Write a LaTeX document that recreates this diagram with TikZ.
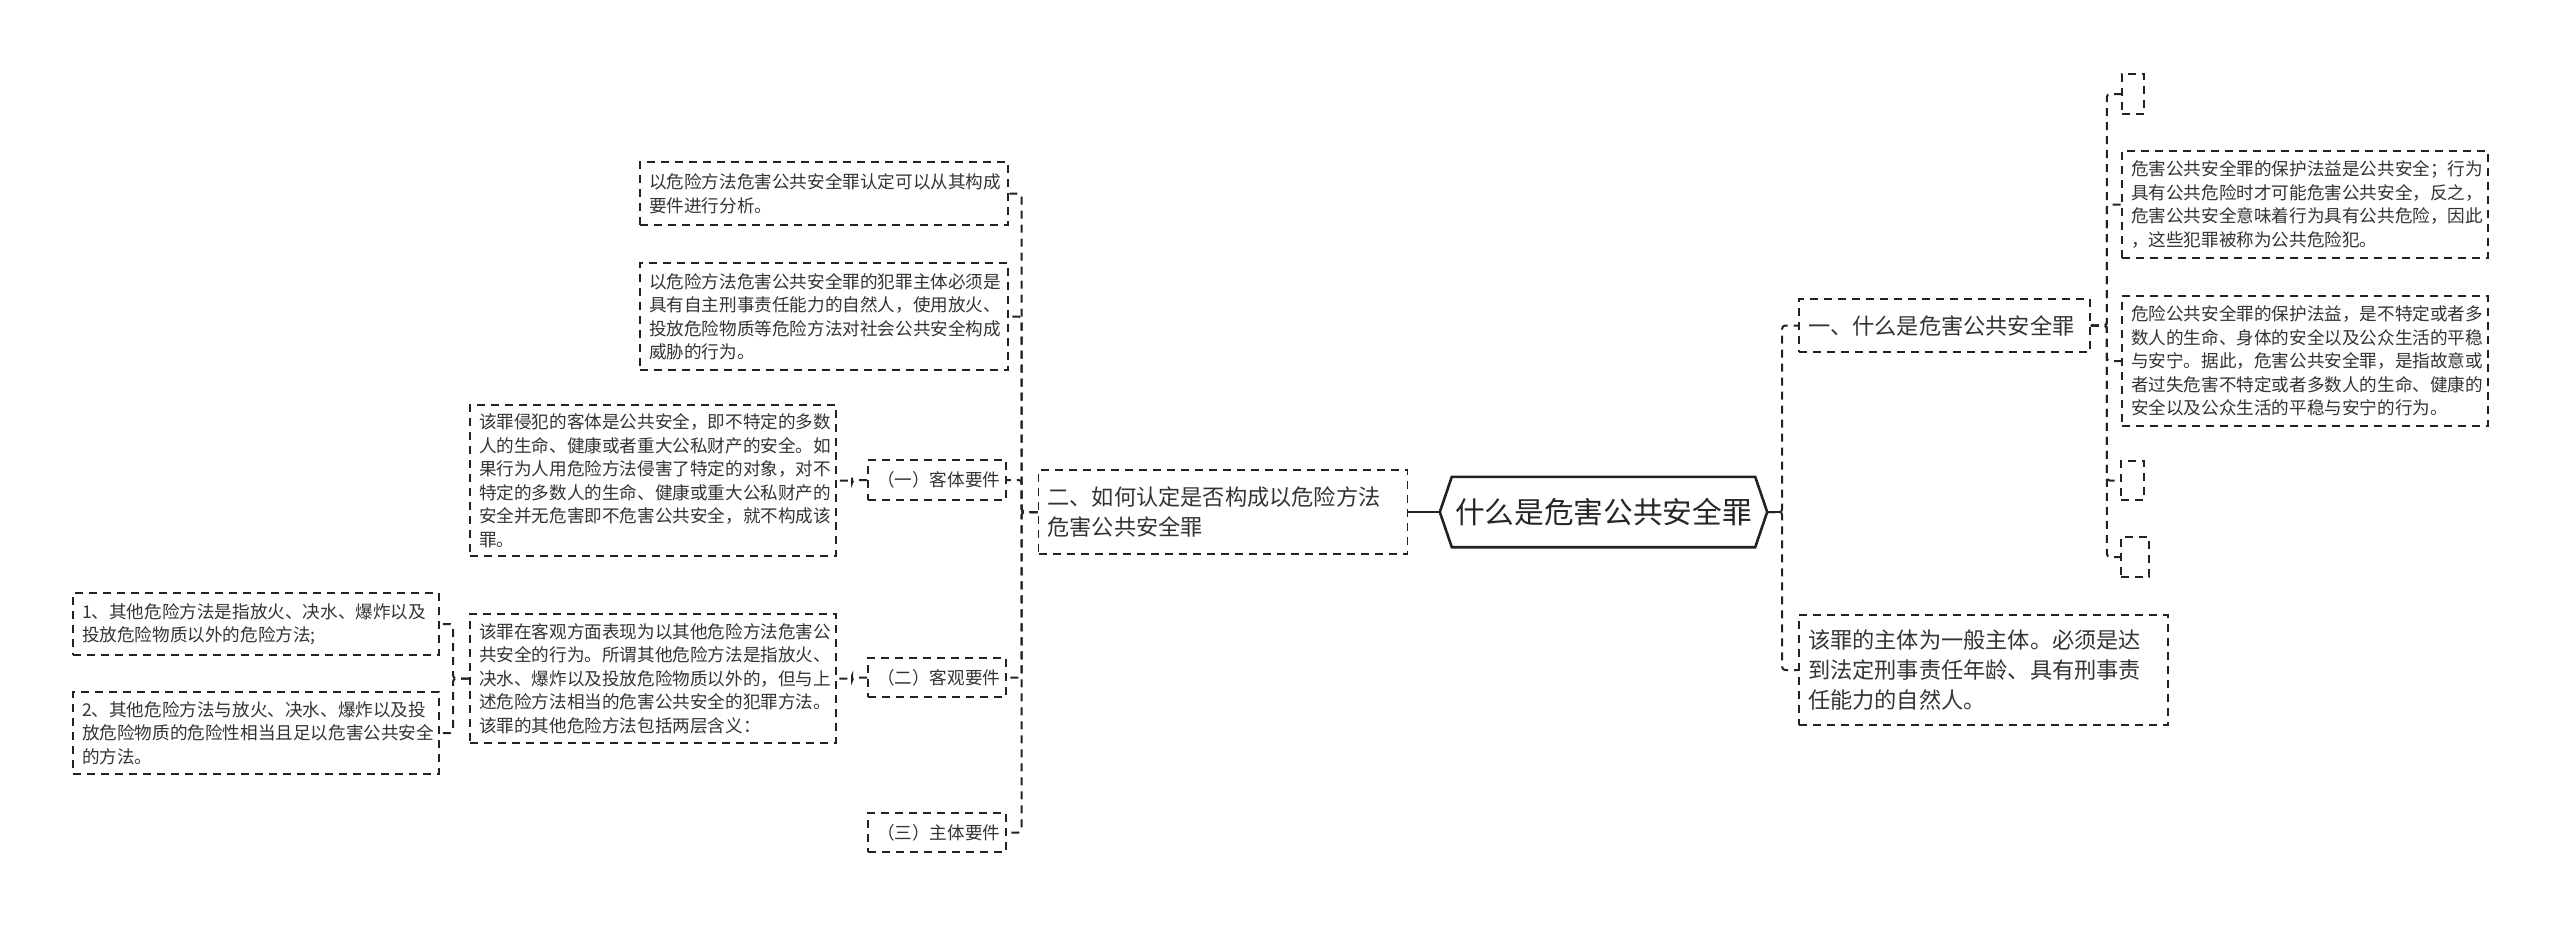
\documentclass[tikz,border=0pt]{standalone}
\usepackage{fontspec}
\setmainfont{Noto Sans CJK SC}
\usetikzlibrary{calc}
\definecolor{txt}{HTML}{333333}
\definecolor{ln}{HTML}{222222}
\tikzset{
  box/.style={draw=ln, line width=1.8pt, dash pattern=on 8pt off 6pt, text=txt, align=left, inner xsep=9pt, inner ysep=0pt},
  cbox/.style={box, align=center},
  ebox/.style={draw=ln, line width=1.8pt, dash pattern=on 8pt off 6pt, inner sep=0pt},
  fs/.style={font=\fontsize{17.6}{23.5}\selectfont},
  fm/.style={font=\fontsize{22.2}{30}\selectfont},
  link/.style={draw=ln, line width=2pt, dash pattern=on 8pt off 6pt, rounded corners=3pt},
  slink/.style={draw=ln, line width=2.4pt},
}
\begin{document}
\begin{tikzpicture}[x=1pt,y=-1pt]
\useasboundingbox (0,0) rectangle (2560,927);

% root
\node[font=\fontsize{29.7}{34}\selectfont, text=black!85, minimum width=327pt, minimum height=70pt, inner sep=0pt] (root) at (1603.5,512) {什么是危害公共安全罪};
\draw[line width=2.6pt, ln, line join=miter] (root.west) -- ([xshift=12pt]root.north west) -- ([xshift=-12pt]root.north east) -- (root.east) -- ([xshift=-12pt]root.south east) -- ([xshift=12pt]root.south west) -- cycle;

% left main branch
\node[box, fm, text width=351pt, minimum height=84pt] (n2) at (1223,512) {二、如何认定是否构成以危险方法\\危害公共安全罪};

\node[box, fs, text width=350pt, minimum height=63pt] (b1) at (824,193.5) {以危险方法危害公共安全罪认定可以从其构成\\要件进行分析。};
\node[box, fs, text width=350pt, minimum height=107pt] (b2) at (824,316.5) {以危险方法危害公共安全罪的犯罪主体必须是\\具有自主刑事责任能力的自然人，使用放火、\\投放危险物质等危险方法对社会公共安全构成\\威胁的行为。};

\node[cbox, fs, text width=120pt, minimum height=40pt] (k1) at (937,480) {（一）客体要件};
\node[box, fs, text width=348pt, minimum height=151pt] (k1c) at (653,480.5) {该罪侵犯的客体是公共安全，即不特定的多数\\人的生命、健康或者重大公私财产的安全。如\\果行为人用危险方法侵害了特定的对象，对不\\特定的多数人的生命、健康或重大公私财产的\\安全并无危害即不危害公共安全，就不构成该\\罪。};

\node[cbox, fs, text width=120pt, minimum height=39pt] (k2) at (937,677.5) {（二）客观要件};
\node[box, fs, text width=348pt, minimum height=129pt] (k2c) at (653,678.5) {该罪在客观方面表现为以其他危险方法危害公\\共安全的行为。所谓其他危险方法是指放火、\\决水、爆炸以及投放危险物质以外的，但与上\\述危险方法相当的危害公共安全的犯罪方法。\\该罪的其他危险方法包括两层含义：};

\node[box, fs, text width=348pt, minimum height=62pt] (s1) at (256,624) {1、其他危险方法是指放火、决水、爆炸以及\\投放危险物质以外的危险方法;};
\node[box, fs, text width=348pt, minimum height=82pt] (s2) at (256,733) {2、其他危险方法与放火、决水、爆炸以及投\\放危险物质的危险性相当且足以危害公共安全\\的方法。};

\node[cbox, fs, text width=120pt, minimum height=39pt] (k3) at (937,832.5) {（三）主体要件};

% right main branch
\node[box, fm, text width=273pt, minimum height=53pt] (r1) at (1944.5,325.5) {一、什么是危害公共安全罪};
\node[box, fm, text width=351pt, minimum height=110pt] (r2) at (1983.5,670) {该罪的主体为一般主体。必须是达\\到法定刑事责任年龄、具有刑事责\\任能力的自然人。};

\node[ebox, minimum width=22pt, minimum height=40pt] (ea) at (2133,94) {};
\node[box, fs, text width=348pt, minimum height=107pt] (bb) at (2305,204.5) {危害公共安全罪的保护法益是公共安全；行为\\具有公共危险时才可能危害公共安全，反之，\\危害公共安全意味着行为具有公共危险，因此\\，这些犯罪被称为公共危险犯。};
\node[box, fs, text width=348pt, minimum height=130pt] (bc) at (2305,361) {危险公共安全罪的保护法益，是不特定或者多\\数人的生命、身体的安全以及公众生活的平稳\\与安宁。据此，危害公共安全罪，是指故意或\\者过失危害不特定或者多数人的生命、健康的\\安全以及公众生活的平稳与安宁的行为。};
\node[ebox, minimum width=23pt, minimum height=39pt] (ed) at (2132.5,480.5) {};
\node[ebox, minimum width=28pt, minimum height=40pt] (ee) at (2135,557) {};

% connectors: root
\draw[slink] (root.west) -- (n2.east);
\draw[link] (root.east) -- ++(15,0) |- (r1.west);
\draw[link] (root.east) -- ++(15,0) |- (r2.west);
\draw[slink] (root.east) -- ++(15,0);

% left trunk
\foreach \c in {b1,b2,k1,k2,k3}{
  \draw[link] (n2.west) -- ++(-16,0) |- (\c.east);
}
\draw[link] (k1.west) -- ++(-15,0) |- (k1c.east);
\draw[link] (k2.west) -- ++(-15,0) |- (k2c.east);
\draw[link] (k2c.west) -- ++(-16,0) |- (s1.east);
\draw[link] (k2c.west) -- ++(-16,0) |- (s2.east);

% right sub trunk
\foreach \c in {ea,bb,bc,ed,ee}{
  \draw[link] (r1.east) -- ++(16,0) |- (\c.west);
}
\end{tikzpicture}
\end{document}
